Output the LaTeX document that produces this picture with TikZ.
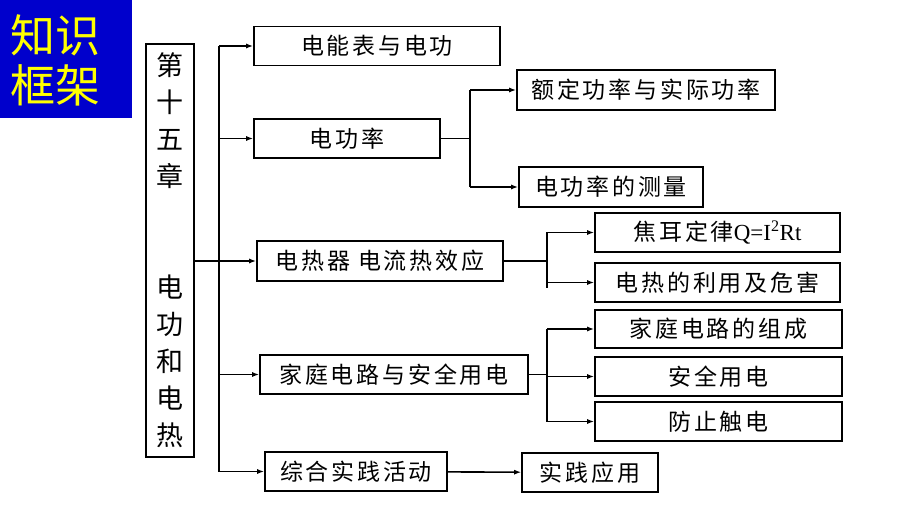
\documentclass[tikz,border=0pt]{standalone}
\usepackage{fontspec}
\setmainfont{Liberation Serif}
\newfontfamily\cjk{Noto Sans CJK SC}
\newfontfamily\cjkw[LetterSpace=12]{Noto Sans CJK SC}
\usetikzlibrary{arrows.meta}
\definecolor{kjblue}{RGB}{0,0,204}
\definecolor{kjyellow}{RGB}{255,255,0}
\tikzset{
  kbox/.style={draw, line width=1.6pt, inner sep=0pt, minimum height=39pt,
    font=\cjkw\fontsize{23}{23}\selectfont},
  line/.style={line width=1.6pt},
  arr/.style={line width=1.6pt, -{Latex[length=7pt,width=5pt]}}
}
\begin{document}
\begin{tikzpicture}[x=1pt,y=-1pt]
  \useasboundingbox (0,0) rectangle (920,518);
  % Titel
  \fill[kjblue] (0,0) rectangle (132,118);
  \node[text=kjyellow, align=center, inner sep=0pt,
    font=\cjk\fontsize{45}{50}\selectfont] (kj) at (55,60) {知识\\框架};
  % Kapitel
  \node[draw, line width=1.6pt, minimum width=48pt, minimum height=413pt, inner sep=0pt,
    align=center, font=\cjk\fontsize{27}{37}\selectfont]
    (ch) at (170,250.5) {第\\十\\五\\章\\\mbox{}\\\mbox{}\\电\\功\\和\\电\\热};
  % Rutor
  \node[kbox, minimum width=246pt] (dnb) at (377,46) {电能表与电功};
  \node[kbox, minimum width=186pt] (dgl) at (347,138.5) {电功率};
  \node[kbox, minimum width=258pt, minimum height=40pt] (ed) at (646,90) {额定功率与实际功率};
  \node[kbox, minimum width=184pt, minimum height=40pt] (cl) at (611,187) {电功率的测量};
  \node[kbox, minimum width=246pt, minimum height=40pt] (drq) at (380,261) {电热器 电流热效应};
  \node[kbox, minimum width=245pt] (jr) at (717.5,232.5) {焦耳定律{\rmfamily Q=I\textsuperscript{2}Rt}};
  \node[kbox, minimum width=245pt] (ly) at (717.5,282.5) {电热的利用及危害};
  \node[kbox, minimum width=268pt] (jt) at (394,374.5) {家庭电路与安全用电};
  \node[kbox, minimum width=247pt, minimum height=38pt] (zc) at (718.5,329) {家庭电路的组成};
  \node[kbox, minimum width=247pt] (aq) at (718.5,376.5) {安全用电};
  \node[kbox, minimum width=247pt] (fz) at (718.5,421.5) {防止触电};
  \node[kbox, minimum width=182pt] (zh) at (356,471.5) {综合实践活动};
  \node[kbox, minimum width=136pt] (sj) at (590,472.5) {实践应用};
  % Stam
  \coordinate (t) at (219,46);
  \draw[line] (t) -- (t |- zh.west);
  \draw[line] (ch.east |- drq.west) -- (t |- drq.west);
  \foreach \n in {dnb,dgl,drq,jt,zh}
    \draw[arr] (t |- \n.west) -- (\n.west);
  % Grenar
  \coordinate (f1) at (470,0);
  \coordinate (f2) at (547,0);
  \draw[line] (dgl.east) -- (f1 |- dgl.east);
  \draw[line] (f1 |- ed.west) -- (f1 |- cl.west);
  \foreach \n in {ed,cl}
    \draw[arr] (f1 |- \n.west) -- (\n.west);
  \draw[line] (drq.east) -- (f2 |- drq.east);
  \draw[line] (f2 |- jr.west) -- ([yshift=-6pt]f2 |- ly.west);
  \foreach \n in {jr,ly}
    \draw[arr] (f2 |- \n.west) -- (\n.west);
  \draw[line] (jt.east) -- (f2 |- jt.east);
  \draw[line] (f2 |- zc.west) -- (f2 |- fz.west);
  \foreach \n in {zc,aq,fz}
    \draw[arr] (f2 |- \n.west) -- (\n.west);
  \draw[arr] (zh) -- (sj);
\end{tikzpicture}
\end{document}
